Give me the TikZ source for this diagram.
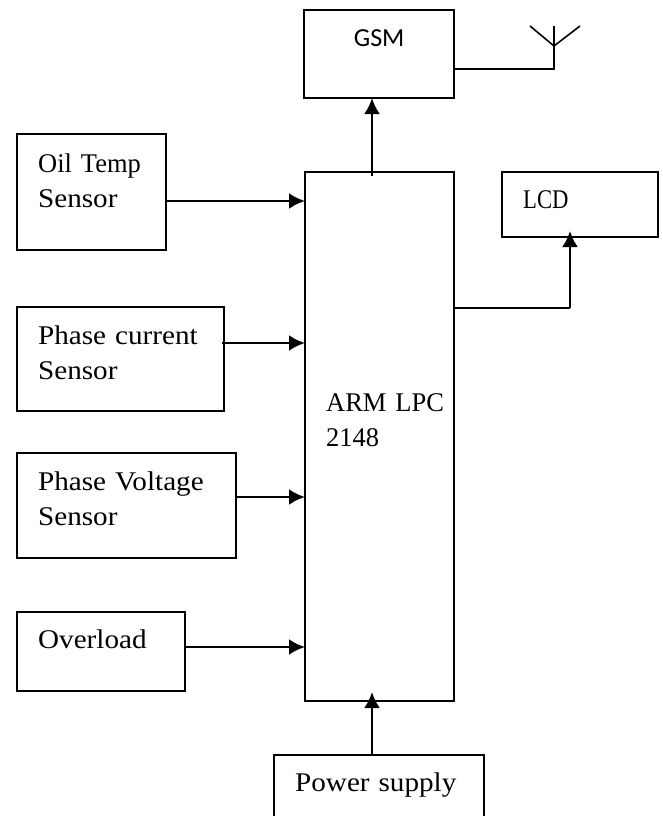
\documentclass[tikz,border=0pt]{standalone}
\usepackage{fontspec}
\setmainfont[FakeStretch=1.08,WordSpace=0.6]{Liberation Serif}
\newfontfamily\gsmfont{Carlito}
\newfontfamily\armfont[FakeStretch=0.98,WordSpace=0.6]{Liberation Serif}
\newfontfamily\lcdfont[FakeStretch=0.84]{Liberation Serif}
\usetikzlibrary{arrows.meta}
\begin{document}
\begin{tikzpicture}[x=1pt,y=-1pt,
    blockbox/.style={draw=black,line width=1.5pt,anchor=north west,align=left,inner xsep=21pt,inner ysep=0pt,xshift=-0.6pt,yshift=0.6pt,font=\fontsize{27}{35}\selectfont},
    sigline/.style={-{Latex[length=16pt,width=16pt]},line width=2.6pt},
    wireline/.style={line width=1.6pt}]
    \useasboundingbox (0,0) rectangle (662,816);
    % Define the blocks
    \node[blockbox,text width=107pt,text height=38pt,text depth=78pt] (oil) at (17,134) {\armfont Oil Temp\\\rmfamily Sensor};
    \node[blockbox,text width=165pt,text height=37pt,text depth=67pt] (current) at (17,307) {Phase current\\Sensor};
    \node[blockbox,text width=177pt,text height=37pt,text depth=68pt] (voltage) at (17,453) {Phase Voltage\\Sensor};
    \node[blockbox,text width=126pt,text height=36pt,text depth=43pt] (overload) at (17,612) {Overload};
    \node[blockbox,text width=107pt,text height=239pt,text depth=290pt] (arm) at (305,172) {\armfont ARM~LPC\\2148};
    \node[blockbox,text width=168pt,text height=36pt,text depth=40pt] (power) at (274,755) {Power supply};
    \node[blockbox,text width=108pt,text height=36pt,text depth=52pt,align=center,font=\gsmfont\fontsize{26}{30}\selectfont] (gsm) at (304,10) {GSM};
    \node[blockbox,text width=114pt,text height=36pt,text depth=29pt,font=\lcdfont\fontsize{27}{35}\selectfont] (lcd) at (502,172) {LCD};
    % Points on the blocks and the antenna
    \coordinate (oilin) at (305,201);
    \coordinate (currentin) at (305,343);
    \coordinate (voltagein) at (305,497);
    \coordinate (overloadin) at (305,647);
    \coordinate (powerin) at (372,692);
    \coordinate (gsmin) at (372,98);
    \coordinate (armtop) at (372,176);
    \coordinate (lcdin) at (570,231);
    \coordinate (lcdbend) at (570,308);
    \coordinate (antfoot) at (554,69);
    \coordinate (anthub) at (554,46);
    \coordinate (anttop) at (554,26);
    \coordinate (antleft) at (530,26);
    \coordinate (antright) at (580,26);
    % Connect the blocks
    \draw[sigline] (oil.east |- oilin) -- (oilin);
    \draw[sigline] ([xshift=-3pt]current.east |- currentin) -- (currentin);
    \draw[sigline] (voltage.east |- voltagein) -- (voltagein);
    \draw[sigline] (overload.east |- overloadin) -- (overloadin);
    \draw[sigline] (power.north -| powerin) -- (powerin);
    \draw[sigline] (armtop) -- (gsmin);
    \draw[wireline] (arm.east |- lcdbend) -- (lcdbend);
    \draw[sigline] (lcdbend) -- (lcdin);
    \draw[wireline] (gsm.east |- antfoot) -- (antfoot) -- (anttop);
    \draw[wireline] (antleft) -- (anthub) -- (antright);
\end{tikzpicture}
\end{document}
